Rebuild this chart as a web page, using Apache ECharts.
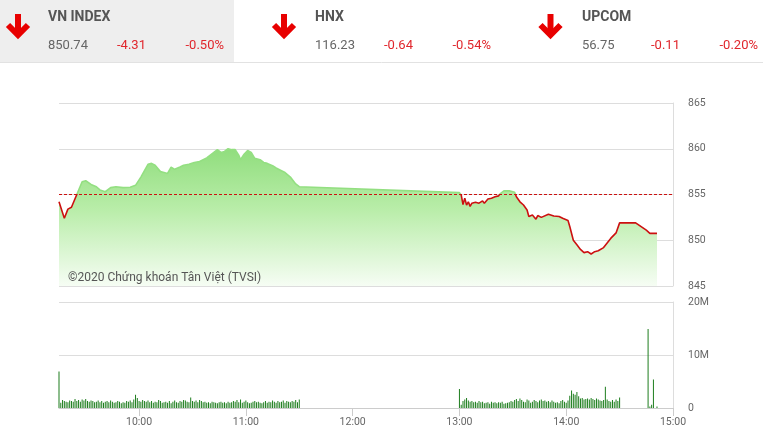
<!DOCTYPE html>
<html><head><meta charset="utf-8">
<script src="https://cdn.jsdelivr.net/npm/echarts@6/dist/echarts.min.js"></script>
<style>html,body{margin:0;padding:0;background:#fff;}#c{width:763px;height:445px;}</style>
</head><body><div id="c"></div>
<script>
// ---- header data ----
var indexNames = ['VN INDEX', 'HNX', 'UPCOM'];
var indexValues = ['850.74', '116.23', '56.75'];
var indexChanges = ['-4.31', '-0.64', '-0.11'];
var indexPercents = ['-0.50%', '-0.54%', '-0.20%'];

// ---- price data (VN-Index intraday) ----
var refPrice = 855.05;
var priceTimes = ['09:15','09:18','09:20','09:22','09:25','09:28','09:30','09:33','09:36','09:38','09:41','09:44','09:47','09:51','09:55','09:58',
 '10:01','10:05','10:07','10:09','10:12','10:14','10:16','10:18','10:20','10:23','10:25','10:28','10:31','10:34','10:36','10:38','10:40','10:42','10:44','10:46','10:48','10:50','10:51','10:52','10:53','10:54','10:56','10:57','10:59',
 '11:01','11:03','11:04','11:05','11:08','11:10','11:12','11:15','11:17','11:20','11:22','11:25','11:28','11:30',
 '13:00','13:01','13:02','13:03','13:04','13:05','13:06','13:07','13:09','13:11','13:13','13:14','13:16','13:18','13:20','13:22','13:23','13:25','13:28','13:31','13:32','13:34','13:36','13:38','13:39','13:41','13:43','13:44','13:46','13:50','13:53','13:54','13:56','13:58',
 '14:01','14:02','14:04','14:06','14:08','14:10','14:12','14:14','14:16','14:18','14:21','14:23','14:25','14:28','14:30','14:39','14:45','14:47','14:51'];
var priceValues = [854.2,852.4,853.4,853.6,855.0,856.4,856.5,856.1,855.85,855.5,855.3,855.75,855.85,855.75,855.8,856.0,
 856.9,858.3,858.4,858.2,857.5,857.4,857.3,858.0,857.75,858.0,858.2,858.3,858.5,858.6,858.8,859.0,859.3,859.6,859.9,859.6,859.7,860.0,860.2,859.9,860.1,859.9,859.3,858.8,859.4,
 859.8,859.6,859.5,858.95,858.8,858.5,858.4,858.15,857.9,857.6,857.4,856.9,856.15,855.85,
 855.2,854.95,853.9,854.6,853.85,854.2,853.7,854.05,854.15,854.05,854.3,854.05,854.5,854.6,854.75,854.85,855.1,855.4,855.4,855.25,854.75,854.2,853.85,853.3,852.6,852.75,852.3,852.7,852.5,852.85,852.65,852.75,852.6,852.4,
 852.15,851.5,850.0,849.5,849.0,848.65,848.75,848.5,848.75,848.85,849.2,849.7,850.2,850.8,851.9,851.9,851.1,850.75,850.75];

// ---- volume data (millions of shares per minute) ----
var volMorningStart = '09:15';
var volMorning = [6.9,
 1.0,1.5,1.3,1.2,1.1,1.4,1.3,1.2,1.7,1.3,1.5,1.2,1.6,1.4,1.7,1.3,1.2,1.4,1.3,1.1,
 1.2,1.4,1.1,1.3,1.0,1.2,1.3,1.1,1.4,1.2,1.0,1.1,1.3,1.2,0.9,1.1,1.0,1.3,1.2,1.4,
 1.1,1.6,2.5,1.9,1.3,1.2,1.5,1.3,1.2,1.4,1.1,1.3,1.0,1.2,1.1,1.5,1.3,1.0,1.1,1.2,
 1.0,1.3,0.9,1.2,1.4,1.1,1.0,1.3,1.2,1.5,1.4,1.2,1.1,2.0,1.3,1.2,1.4,1.1,1.5,1.3,
 1.1,1.2,1.0,1.1,0.9,1.2,1.1,1.0,0.9,1.1,1.2,1.0,1.1,0.9,1.2,1.0,1.1,1.3,1.2,1.5,
 1.1,1.6,1.0,1.2,1.4,1.1,0.9,1.0,1.2,1.3,1.1,1.2,1.0,0.9,1.1,1.3,1.0,1.2,1.1,1.4,
 1.2,1.0,1.3,1.1,1.2,1.4,1.0,1.3,1.2,1.1,1.3,1.2,1.5,1.1,1.6];
var volAfternoonStart = '13:00';
var volAfternoon = [3.6,
 0.6,1.3,1.6,1.9,1.4,1.2,1.3,1.1,1.2,1.0,1.3,1.1,1.2,0.9,1.0,1.1,0.8,1.2,1.0,1.1,
 0.9,1.1,1.0,1.2,0.8,0.9,1.0,1.1,1.3,1.2,1.5,1.7,1.3,1.8,1.5,1.2,1.1,1.6,1.4,1.0,
 1.2,1.5,1.3,1.1,1.4,1.6,1.3,1.4,1.2,1.3,1.1,1.4,1.2,1.0,1.1,0.9,1.3,1.5,1.2,1.0,
 1.4,2.3,3.3,2.7,2.5,3.0,2.2,1.8,1.9,1.6,1.7,1.8,1.6,1.9,1.7,1.5,1.8,1.6,1.4,1.3,
 1.5,4.0,1.6,1.3,1.2,1.5,1.2,1.6,1.3,2.0];
var volAtcTimes = ['14:46','14:47','14:48','14:49','14:51'];
var volAtc = [14.9,0.3,0.6,5.4,0.3];

// ---- axis ticks ----
var timeTicks = ['10:00','11:00','12:00','13:00','14:00','15:00'];
var axisStart = '09:15', axisEnd = '15:00';
var priceTicks = [845, 865, 5];
var volTicks = [0, 20, 10];

function toMin(s){var p=s.split(':');return (+p[0])*60+(+p[1]);}
function fmtMin(m){var h=Math.floor(m/60),mm=Math.round(m%60);return (h<10?'0':'')+h+':'+(mm<10?'0':'')+mm;}

var priceData = priceTimes.map(function(t,i){return [toMin(t), priceValues[i]];});
var volData = [];
volMorning.forEach(function(v,i){volData.push([toMin(volMorningStart)+i, v]);});
volAfternoon.forEach(function(v,i){volData.push([toMin(volAfternoonStart)+i, v]);});
volAtc.forEach(function(v,i){volData.push([toMin(volAtcTimes[i]), v]);});
var tickVals = timeTicks.map(toMin);

// ---- header graphics ----
var FONT = 'Roboto, "Noto Sans", sans-serif';
var graphics = [
  {type:'rect', shape:{x:0,y:0,width:234,height:62}, style:{fill:'#eeeeee'}, z:0},
  {type:'line', shape:{x1:0,y1:62.5,x2:763,y2:62.5}, style:{stroke:'#e2e2e2',lineWidth:1}, z:1}
];
var panelX = [48, 315, 582];
var arrowX = [18, 284, 550.5];
var chgOff = 69, pctOff = 137.5;
indexNames.forEach(function(n,i){
  var ax = arrowX[i];
  graphics.push({type:'polyline', shape:{points:[[ax,14],[ax,35]]}, style:{stroke:'#e80000',lineWidth:6,fill:null}, z:2});
  graphics.push({type:'polyline', shape:{points:[[ax-10,25],[ax,35],[ax+10,25]]}, style:{stroke:'#e80000',lineWidth:6,fill:null,lineJoin:'miter'}, z:2});
  var px = panelX[i];
  graphics.push({type:'text', x:px, y:17.5, style:{text:n, fontSize:14, fontWeight:'bold', fontFamily:FONT, fill:'#555555', verticalAlign:'middle'}, z:2});
  graphics.push({type:'text', x:px, y:45.5, style:{text:indexValues[i], fontSize:13, fontFamily:FONT, fill:'#666666', verticalAlign:'middle'}, z:2});
  graphics.push({type:'text', x:px+chgOff, y:45.5, style:{text:indexChanges[i], fontSize:13, fontFamily:FONT, fill:'#e0262c', verticalAlign:'middle'}, z:2});
  graphics.push({type:'text', x:px+pctOff, y:45.5, style:{text:indexPercents[i], fontSize:13, fontFamily:FONT, fill:'#e0262c', verticalAlign:'middle'}, z:2});
});
graphics.push({type:'text', x:68, y:277.5, style:{text:'©2020 Chứng khoán Tân Việt (TVSI)', fontSize:12, fontFamily:FONT, fill:'#555555', verticalAlign:'middle'}, z:10});

var chart = echarts.init(document.getElementById('c'), null, {renderer:'canvas'});
var labelStyle = {color:'#666666', fontSize:10.5, fontFamily:FONT};
chart.setOption({
  animation:false,
  backgroundColor:'#ffffff',
  graphic: graphics,
  grid:[
    {left:59, right:90, top:103, height:183},
    {left:59, right:90, top:302, height:106}
  ],
  xAxis:[
    {type:'value', gridIndex:0, min:toMin(axisStart), max:toMin(axisEnd), show:false, splitLine:{show:false}},
    {type:'value', gridIndex:1, min:toMin(axisStart), max:toMin(axisEnd),
     axisLine:{show:true, lineStyle:{color:'#cccccc'}},
     axisTick:{show:true, customValues:tickVals, length:8, lineStyle:{color:'#cccccc'}},
     axisLabel:{customValues:tickVals, formatter:function(v){return fmtMin(v);}, margin:9, color:'#666666', fontSize:10.5, fontFamily:FONT},
     splitLine:{show:false}}
  ],
  yAxis:[
    {type:'value', gridIndex:0, position:'right', min:priceTicks[0], max:priceTicks[1], interval:priceTicks[2],
     axisLine:{show:true, lineStyle:{color:'#dddddd'}}, axisTick:{show:false},
     axisLabel:Object.assign({margin:15}, labelStyle),
     splitLine:{show:true, lineStyle:{color:'#dddddd'}}},
    {type:'value', gridIndex:1, position:'right', min:volTicks[0], max:volTicks[1], interval:volTicks[2],
     axisLine:{show:true, lineStyle:{color:'#dddddd'}}, axisTick:{show:false},
     axisLabel:Object.assign({margin:15, formatter:function(v){return v===0?'0':v+'M';}}, labelStyle),
     splitLine:{show:true, lineStyle:{color:'#dddddd'}}}
  ],
  visualMap:{show:false, type:'piecewise', seriesIndex:0, dimension:1,
    pieces:[{gte:priceTicks[0]-5, lt:refPrice, color:'#cc1010'},{gte:refPrice, lte:priceTicks[1]+5, color:'#93df81'}]},
  series:[
    {type:'line', xAxisIndex:0, yAxisIndex:0, data:priceData, showSymbol:false, symbol:'none',
     lineStyle:{width:1.6},
     areaStyle:{origin:'start', opacity:1, color:new echarts.graphic.LinearGradient(0,0,0,1,[
       {offset:0, color:'#8fdd7c'},{offset:0.45, color:'#b9eda9'},{offset:1, color:'#f6fdf4'}])},
     markLine:{silent:true, symbol:'none', label:{show:false},
       lineStyle:{color:'#cc1010', type:[3,2], width:1},
       data:[{yAxis:refPrice}]},
     z:3},
    {type:'bar', xAxisIndex:1, yAxisIndex:1, data:volData, barWidth:1,
     itemStyle:{color:'#1d7d1d'}, z:3}
  ]
});
</script></body></html>
